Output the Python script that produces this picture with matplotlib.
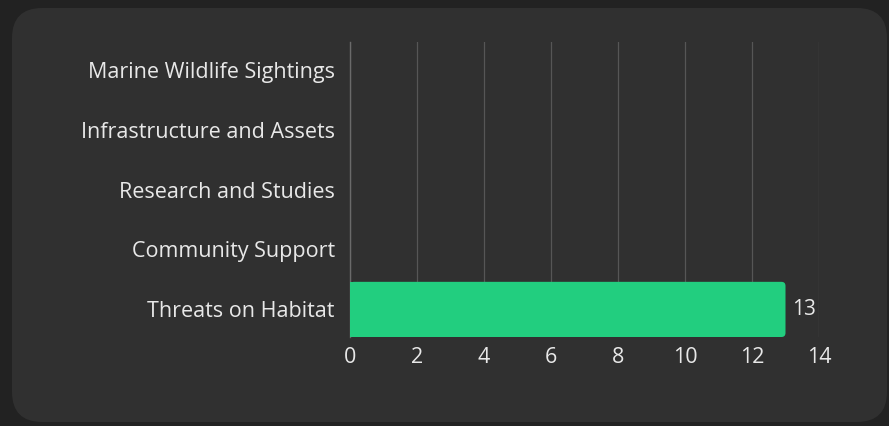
import matplotlib
matplotlib.use("Agg")
from matplotlib import pyplot as plt
from matplotlib.patches import FancyBboxPatch, Rectangle

categories = [
    "Threats on Habitat",
    "Community Support",
    "Research and Studies",
    "Infrastructure and Assets",
    "Marine Wildlife Sightings",
]
values = [13, 0, 0, 0, 0]
x_ticks = [0, 2, 4, 6, 8, 10, 12, 14]

plt.rcParams['font.family'] = ['Open Sans', 'DejaVu Sans']

fig = plt.figure(figsize=(8.89, 4.26), dpi=100)
fig.patch.set_facecolor("#222222")

# rounded card behind the chart
card = FancyBboxPatch((12 / 889, 4 / 426), 875 / 889, 414 / 426,
                      boxstyle="round,pad=0,rounding_size=0.034",
                      mutation_aspect=889 / 426,
                      transform=fig.transFigure, facecolor="#303030",
                      edgecolor="none", zorder=-5)
fig.patches.append(card)

ax = fig.add_axes([350 / 889, (426 - 337) / 426, 469 / 889, 295 / 426])
ax.set_facecolor("none")

ypos = list(range(len(categories)))
bars = ax.barh(ypos, values, height=0.92, color="#22ce7f", zorder=3)

# round off the right end of each bar
for b, v in zip(bars, values):
    if v <= 0:
        continue
    x, y, w, h = b.get_x(), b.get_y(), b.get_width(), b.get_height()
    b.set_visible(False)
    ax.add_patch(FancyBboxPatch((x, y), w, h,
                                boxstyle="round,pad=0,rounding_size=0.12",
                                mutation_aspect=0.56, facecolor="#22ce7f",
                                edgecolor="none", zorder=3))
    ax.add_patch(Rectangle((x, y), w / 2, h, facecolor="#22ce7f",
                           edgecolor="none", zorder=3))
    ax.text(v + 0.2, y + h / 2, str(v),
            va="center", ha="left", color="#e8e8e8", fontsize=15)

ax.set_xlim(0, 14)
ax.set_ylim(-0.46, 4.46)
ax.set_xticks(x_ticks)
ax.set_yticks(ypos)
ax.set_yticklabels(categories)
ax.grid(axis="x", color="#565656", linewidth=0.9, zorder=0)
ax.grid(axis="y", visible=False)
for s in ["top", "right", "bottom"]:
    ax.spines[s].set_visible(False)
ax.spines["left"].set_color("#6a6a6a")
ax.spines["left"].set_linewidth(1)
ax.tick_params(axis="both", length=0, colors="#e8e8e8", labelsize=15.5)
ax.tick_params(axis="x", pad=7)
ax.tick_params(axis="y", pad=11)

fig.savefig("out.png", dpi=100, facecolor=fig.get_facecolor())
